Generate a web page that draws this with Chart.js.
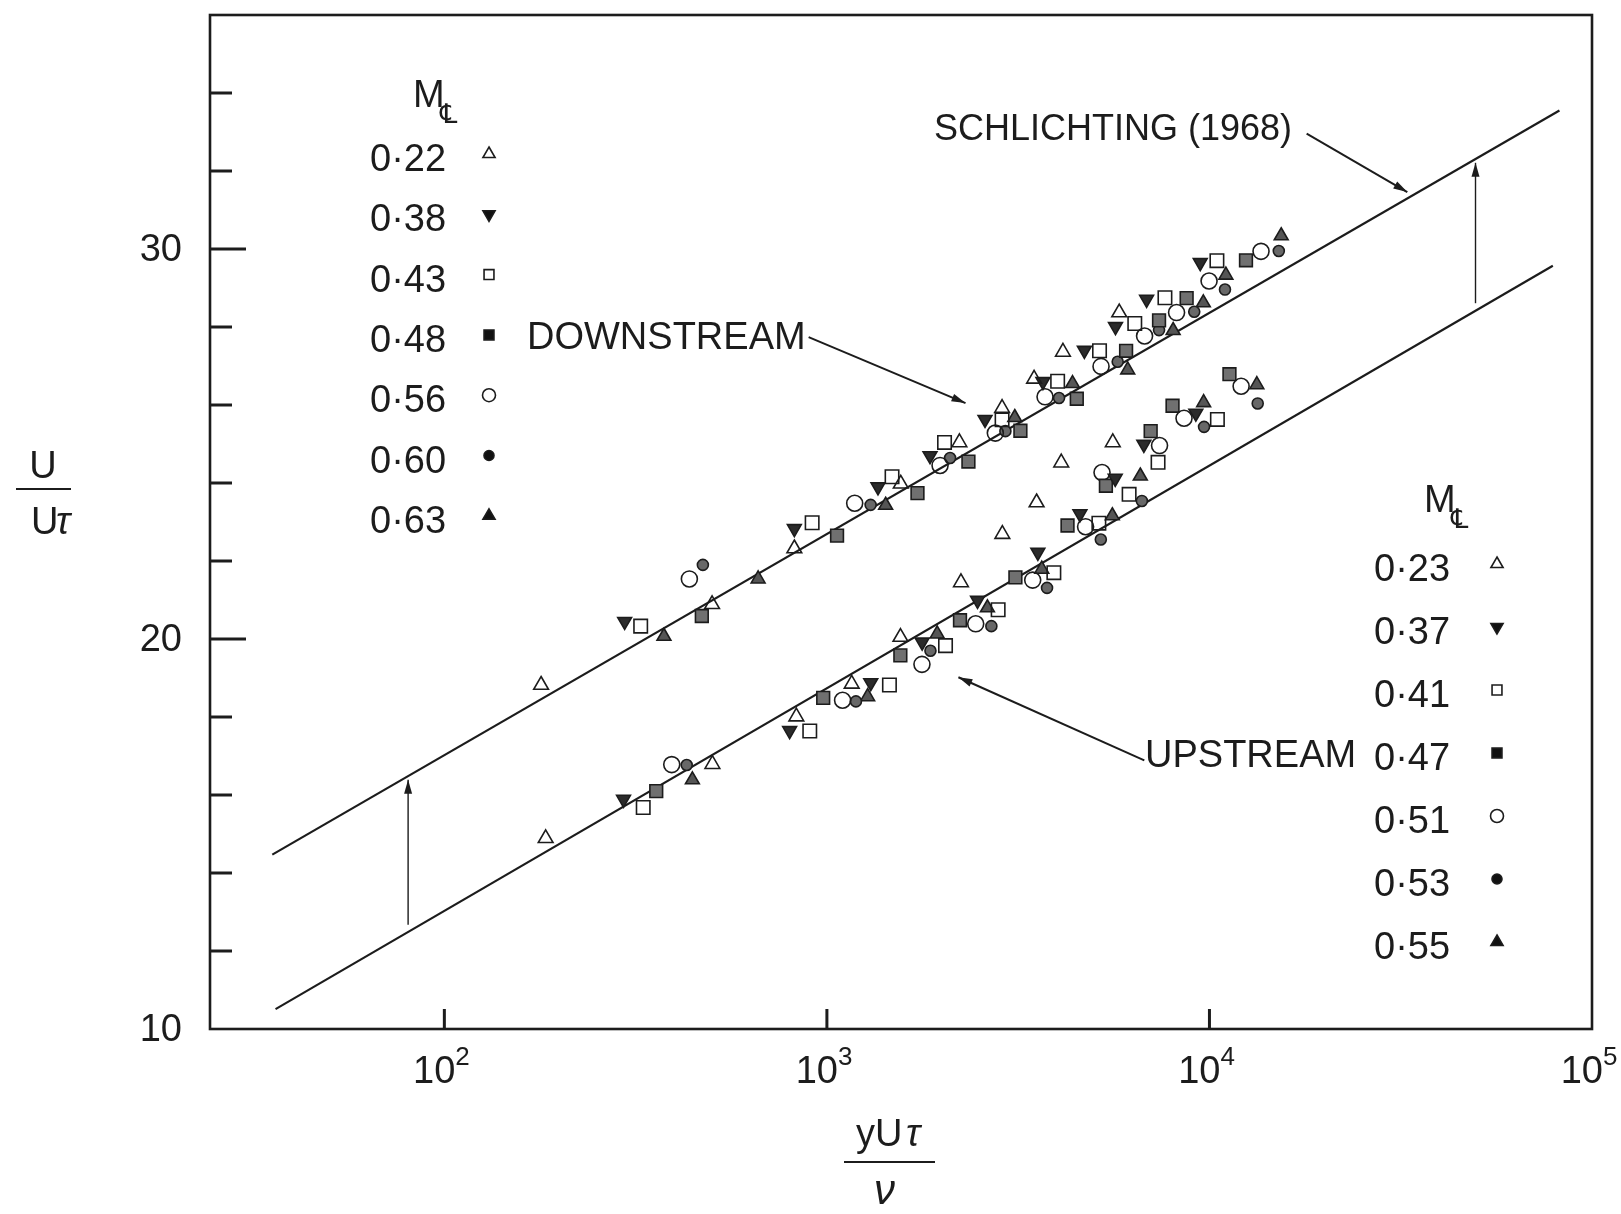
<!DOCTYPE html>
<html>
<head>
<meta charset="utf-8">
<title>U/Ut against yUt/nu</title>
<script src="https://cdn.jsdelivr.net/npm/chart.js@4.4.1/dist/chart.umd.min.js"></script>
<style>
  html, body { margin: 0; padding: 0; background: #fff; overflow: hidden; }
  canvas { display: block; }
</style>
</head>
<body>
<canvas id="perfil" width="1621" height="1214"></canvas>
<script>
// legend labels (centre-line Mach number)
const downLabels = ['0·22', '0·38', '0·43', '0·48', '0·56', '0·60', '0·63'];
const upLabels = ['0·23', '0·37', '0·41', '0·47', '0·51', '0·53', '0·55'];

// downstream data, yU/nu and U/Ut
const down22x = [179, 501, 822, 1560, 2220, 2870, 3480, 4140, 5810];
const down22y = [18.82, 20.89, 22.32, 23.98, 25.04, 25.92, 26.67, 27.36, 28.37];
const down38x = [296, 822, 1360, 1860, 2590, 3670, 4710, 5680, 6850, 9460];
const down38y = [20.45, 22.83, 23.90, 24.70, 25.63, 26.60, 27.40, 28.01, 28.71, 29.65];
const down43x = [326, 915, 1480, 2030, 2870, 4010, 5160, 6380, 7650, 10460];
const down43y = [20.33, 22.98, 24.16, 25.04, 25.62, 26.61, 27.39, 28.09, 28.75, 29.70];
const down48x = [471, 1063, 1725, 2344, 3205, 4500, 6055, 7383, 8717, 12460];
const down48y = [20.59, 22.65, 23.74, 24.55, 25.34, 26.16, 27.39, 28.17, 28.74, 29.71];
const down56x = [437, 1182, 1976, 2756, 3717, 5207, 6767, 8204, 9977, 13640];
const down56y = [21.54, 23.48, 24.45, 25.28, 26.21, 26.99, 27.77, 28.37, 29.18, 29.94];
const down60x = [474, 1301, 2099, 2928, 4044, 5756, 7383, 9125, 10980, 15180];
const down60y = [21.90, 23.44, 24.64, 25.33, 26.18, 27.11, 27.92, 28.39, 28.96, 29.95];
const down63x = [375, 661, 1424, 3098, 4386, 6114, 8036, 9638, 11040, 15400];
const down63y = [20.07, 21.54, 23.43, 25.68, 26.55, 26.90, 27.91, 28.62, 29.33, 30.34];

// upstream data
const up23x = [184, 502, 832, 1161, 1557, 2241, 2875, 3533, 4098, 5589];
const up23y = [14.89, 16.79, 18.01, 18.85, 20.05, 21.45, 22.69, 23.50, 24.52, 25.04];
const up37x = [294, 799, 1302, 1774, 2476, 3560, 4586, 5671, 6738, 9213];
const up37y = [15.89, 17.65, 18.88, 19.92, 20.99, 22.22, 23.21, 24.12, 24.99, 25.79];
const up41x = [331, 902, 1457, 2042, 2803, 3920, 5140, 6166, 7339, 10490];
const up41y = [15.68, 17.64, 18.82, 19.83, 20.75, 21.70, 22.97, 23.71, 24.53, 25.63];
const up47x = [358, 978, 1556, 2228, 3110, 4256, 5362, 7020, 8008, 11280];
const up47y = [16.10, 18.49, 19.58, 20.48, 21.58, 22.91, 23.93, 25.33, 25.98, 26.79];
const up51x = [393, 1099, 1772, 2449, 3451, 4745, 5238, 7405, 8581, 12100];
const up51y = [16.78, 18.43, 19.35, 20.39, 21.51, 22.88, 24.27, 24.96, 25.66, 26.48];
const up53x = [430, 1191, 1865, 2691, 3762, 5200, 6658, 9680, 13370];
const up53y = [16.77, 18.40, 19.70, 20.33, 21.31, 22.55, 23.54, 25.44, 26.04];
const up55x = [445, 1278, 1942, 2628, 3645, 5573, 6595, 9656, 13300];
const up55y = [16.39, 18.52, 20.13, 20.80, 21.79, 23.16, 24.18, 26.06, 26.52];

// log law lines (Schlichting 1968 and the shifted one)
const lawUpperX = [35.5, 82200];
const lawUpperY = [14.47, 33.55];
const lawLowerX = [36.2, 79000];
const lawLowerY = [10.51, 29.57];

// axes
const yTicks = [12, 14, 16, 18, 20, 22, 24, 26, 28, 30, 32, 34];
const yTickLabels = [10, 20, 30];
const xTicks = [100, 1000, 10000];
const xTickLabels = [100, 1000, 10000, 100000];
const xTickExp = ['2', '3', '4', '5'];

const ink = '#1c1c1c';
const font = "'Liberation Sans', 'DejaVu Sans', sans-serif";

// one marker style per Mach number slot
const markers = [
  { pointStyle: 'triangle', rotation: 0, radius: 8.5, fill: 'rgba(0,0,0,0)', legendFill: 'rgba(0,0,0,0)' },
  { pointStyle: 'triangle', rotation: 180, radius: 8, fill: '#2b2b2b', legendFill: '#111' },
  { pointStyle: 'rect', rotation: 0, radius: 9.5, fill: 'rgba(0,0,0,0)', legendFill: 'rgba(0,0,0,0)' },
  { pointStyle: 'rect', rotation: 0, radius: 9, fill: '#707070', legendFill: '#111' },
  { pointStyle: 'circle', rotation: 0, radius: 8, fill: 'rgba(0,0,0,0)', legendFill: 'rgba(0,0,0,0)' },
  { pointStyle: 'circle', rotation: 0, radius: 5.5, fill: '#686868', legendFill: '#111' },
  { pointStyle: 'triangle', rotation: 0, radius: 8, fill: '#555', legendFill: '#111' }
];

function pts(xs, ys) {
  return xs.map((x, i) => ({ x: x, y: ys[i] }));
}

const downSets = [[down22x, down22y], [down38x, down38y], [down43x, down43y], [down48x, down48y],
  [down56x, down56y], [down60x, down60y], [down63x, down63y]];
const upSets = [[up23x, up23y], [up37x, up37y], [up41x, up41y], [up47x, up47y],
  [up51x, up51y], [up53x, up53y], [up55x, up55y]];

function markerSet(label, xy, i) {
  const m = markers[i];
  return {
    label: label,
    data: pts(xy[0], xy[1]),
    pointStyle: m.pointStyle,
    rotation: m.rotation,
    pointRadius: m.radius,
    pointBackgroundColor: m.fill,
    pointBorderColor: ink,
    pointBorderWidth: 1.6,
    showLine: false,
    order: 0
  };
}

const datasets = [];
downSets.forEach((xy, i) => datasets.push(markerSet('down ' + downLabels[i], xy, i)));
upSets.forEach((xy, i) => datasets.push(markerSet('up ' + upLabels[i], xy, i)));
[[lawUpperX, lawUpperY], [lawLowerX, lawLowerY]].forEach(xy => {
  datasets.push({
    data: pts(xy[0], xy[1]),
    showLine: true,
    borderColor: ink,
    borderWidth: 2.2,
    pointRadius: 0,
    order: 1
  });
});

// arrows, in data coordinates: [x1, y1, x2, y2, width]
const arrows = [
  [896, 27.74, 2303, 26.05, 2],
  [17950, 32.96, 32900, 31.46, 2],
  [6757, 16.89, 2207, 19.02, 2],
  [80.4, 12.67, 80.4, 16.39, 1.4],
  [49600, 28.61, 49600, 32.21, 1.4]
];

function arrow(ctx, x1, y1, x2, y2, w) {
  const ang = Math.atan2(y2 - y1, x2 - x1);
  ctx.lineWidth = w;
  ctx.beginPath();
  ctx.moveTo(x1, y1);
  ctx.lineTo(x2, y2);
  ctx.stroke();
  const len = 14, half = 4;
  ctx.beginPath();
  ctx.moveTo(x2, y2);
  ctx.lineTo(x2 - len * Math.cos(ang) + half * Math.sin(ang), y2 - len * Math.sin(ang) - half * Math.cos(ang));
  ctx.lineTo(x2 - len * Math.cos(ang) - half * Math.sin(ang), y2 - len * Math.sin(ang) + half * Math.cos(ang));
  ctx.closePath();
  ctx.fill();
}

function legendBlock(ctx, labels, left, base0, step, mx, hx, hy) {
  ctx.font = '38px ' + font;
  ctx.textAlign = 'left';
  ctx.textBaseline = 'alphabetic';
  ctx.fillText('M', hx, hy);
  ctx.font = "27px 'DejaVu Sans', sans-serif";
  ctx.fillText('\u2104', hx + 27, hy + 16);
  labels.forEach((lab, i) => {
    const base = base0 + step * i;
    ctx.font = '38px ' + font;
    ctx.fillText(lab, left, base);
    const m = markers[i];
    ctx.fillStyle = m.legendFill;
    ctx.strokeStyle = ink;
    ctx.lineWidth = 1.6;
    const r = m.pointStyle === 'circle' ? (i === 5 ? 5 : 6.5) : 7;
    Chart.helpers.drawPoint(ctx, { pointStyle: m.pointStyle, rotation: m.rotation, radius: r, borderWidth: 1.6 }, mx, base - 17);
    ctx.fillStyle = ink;
  });
}

const decor = {
  id: 'decor',
  afterDraw(chart) {
    const ctx = chart.ctx;
    const a = chart.chartArea;
    const sx = chart.scales.x, sy = chart.scales.y;
    ctx.save();
    ctx.strokeStyle = ink;
    ctx.fillStyle = ink;

    // frame
    ctx.lineWidth = 2.6;
    ctx.strokeRect(a.left, a.top, a.right - a.left, a.bottom - a.top);

    // inward ticks
    ctx.lineWidth = 3;
    yTicks.forEach(v => {
      const py = sy.getPixelForValue(v);
      const len = yTickLabels.includes(v) ? 36 : 22;
      ctx.beginPath();
      ctx.moveTo(a.left, py);
      ctx.lineTo(a.left + len, py);
      ctx.stroke();
    });
    xTicks.forEach(v => {
      const px = sx.getPixelForValue(v);
      ctx.beginPath();
      ctx.moveTo(px, a.bottom);
      ctx.lineTo(px, a.bottom - 20);
      ctx.stroke();
    });

    // tick labels
    ctx.font = '38px ' + font;
    ctx.textAlign = 'right';
    ctx.textBaseline = 'middle';
    yTickLabels.forEach(v => {
      ctx.fillText(String(v), a.left - 28, sy.getPixelForValue(v) + 2);
    });
    ctx.textBaseline = 'alphabetic';
    xTickLabels.forEach((v, i) => {
      const px = sx.getPixelForValue(v);
      ctx.font = '38px ' + font;
      ctx.textAlign = 'right';
      ctx.fillText('10', px + 11, a.bottom + 54);
      ctx.font = '26px ' + font;
      ctx.textAlign = 'left';
      ctx.fillText(xTickExp[i], px + 11, a.bottom + 36);
    });

    // axis titles
    ctx.font = '38px ' + font;
    ctx.textAlign = 'center';
    ctx.fillText('U', 43, 478);
    ctx.lineWidth = 2;
    ctx.beginPath(); ctx.moveTo(16, 489); ctx.lineTo(71, 489); ctx.stroke();
    ctx.textAlign = 'left';
    ctx.fillText('U', 31, 534);
    ctx.font = 'italic 38px ' + font;
    ctx.fillText('\u03c4', 56, 534);
    ctx.font = '38px ' + font;
    ctx.fillText('yU', 856, 1146);
    ctx.font = 'italic 38px ' + font;
    ctx.fillText('\u03c4', 906, 1146);
    ctx.beginPath(); ctx.moveTo(844, 1162); ctx.lineTo(935, 1162); ctx.stroke();
    ctx.font = 'italic 42px ' + font;
    ctx.fillText('\u03bd', 874, 1204);

    // legends and notes
    legendBlock(ctx, downLabels, 370, 171, 60.3, 489, 413, 107);
    legendBlock(ctx, upLabels, 1374, 581, 63, 1497, 1424, 512);
    ctx.fillStyle = ink;
    ctx.font = '38px ' + font;
    ctx.textAlign = 'left';
    ctx.fillText('DOWNSTREAM', 527, 349);
    ctx.fillText('UPSTREAM', 1145, 767);
    ctx.font = '36px ' + font;
    ctx.fillText('SCHLICHTING (1968)', 934, 140);

    arrows.forEach(ar => {
      arrow(ctx, sx.getPixelForValue(ar[0]), sy.getPixelForValue(ar[1]),
        sx.getPixelForValue(ar[2]), sy.getPixelForValue(ar[3]), ar[4]);
    });
    ctx.restore();
  }
};

new Chart(document.getElementById('perfil').getContext('2d'), {
  type: 'scatter',
  data: { datasets: datasets },
  options: {
    responsive: false,
    devicePixelRatio: 1,
    animation: false,
    layout: { padding: { left: 210, right: 29, top: 15, bottom: 185 } },
    scales: {
      x: { type: 'logarithmic', min: 24.4, max: 100000, display: false },
      y: { type: 'linear', min: 10, max: 36, display: false }
    },
    plugins: {
      legend: { display: false },
      tooltip: { enabled: false }
    }
  },
  plugins: [decor]
});
</script>
</body>
</html>
